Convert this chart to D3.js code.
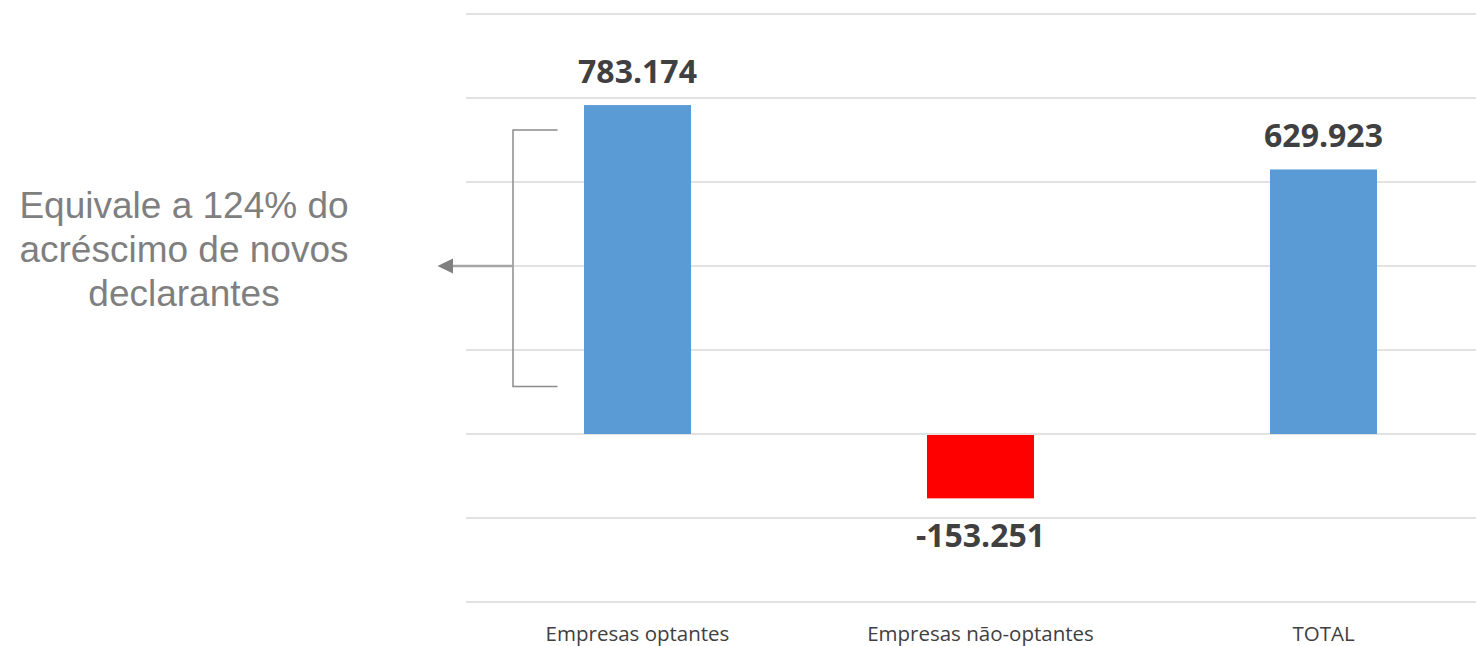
<!DOCTYPE html>
<html><head><meta charset="utf-8">
<script src="https://cdn.jsdelivr.net/npm/d3@7"></script>
<style>html,body{margin:0;padding:0;background:#fff;overflow:hidden}</style>
</head><body>
<svg id="c" width="1476" height="646"></svg>
<script>
const categories = ["Empresas optantes", "Empresas não-optantes", "TOTAL"];
const values = [783174, -153251, 629923];
const valueLabels = ["783.174", "-153.251", "629.923"];
const barColors = ["#5b9bd5", "#ff0000", "#5b9bd5"];
const gridTicks = [-400000, -200000, 0, 200000, 400000, 600000, 800000, 1000000];
const noteLines = ["Equivale a 124% do", "acréscimo de novos", "declarantes"];

const svg = d3.select("#c");
const x = d3.scaleBand().domain(categories).range([466, 1495]).padding(0);
const y = d3.scaleLinear().domain([-400000, 1000000]).range([602, 14]);
const barW = x.bandwidth() * 0.312;

svg.append("g").selectAll("line").data(gridTicks).join("line")
  .attr("x1", 466).attr("x2", 1495)
  .attr("y1", d => y(d)).attr("y2", d => y(d))
  .attr("stroke", "#d9d9d9").attr("stroke-width", 1.5);

svg.append("g").selectAll("rect").data(values).join("rect")
  .attr("x", (d, i) => x(categories[i]) + x.bandwidth() / 2 - barW / 2)
  .attr("width", barW)
  .attr("y", d => d >= 0 ? y(d) : y(0) + 1)
  .attr("height", d => d >= 0 ? y(0) - y(d) : y(d) - y(0) - 1)
  .attr("fill", (d, i) => barColors[i]);

svg.append("g").selectAll("text").data(values).join("text")
  .attr("x", (d, i) => x(categories[i]) + x.bandwidth() / 2)
  .attr("y", d => d >= 0 ? y(d) - 22 : y(d) + 49)
  .attr("text-anchor", "middle")
  .attr("font-family", "Open Sans, sans-serif").attr("font-weight", "bold")
  .attr("font-size", 32).attr("fill", "#404040")
  .text((d, i) => valueLabels[i]);

svg.append("g").selectAll("text").data(categories).join("text")
  .attr("x", d => x(d) + x.bandwidth() / 2)
  .attr("y", 641)
  .attr("text-anchor", "middle")
  .attr("font-family", "Open Sans, sans-serif")
  .attr("font-size", 20.5).attr("fill", "#404040")
  .text(d => d);

// bracket annotation
const br = svg.append("g").attr("fill", "none").attr("stroke", "#8c8c8c").attr("stroke-width", 1.5);
br.append("path").attr("d", `M557.5,${y(724000)}H513V${y(113000)}H557.5`);
svg.append("line").attr("x1", 513).attr("x2", 452).attr("y1", y(400000)).attr("y2", y(400000))
  .attr("stroke", "#a6a6a6").attr("stroke-width", 2.5);
svg.append("path").attr("d", `M437.5,${y(400000)}L453,${y(400000) - 7.5}L453,${y(400000) + 7.5}Z`)
  .attr("fill", "#808080");

svg.append("g").selectAll("text").data(noteLines).join("text")
  .attr("x", 184).attr("y", (d, i) => 218 + i * 44)
  .attr("text-anchor", "middle")
  .attr("font-family", "Liberation Sans, Arial, sans-serif")
  .attr("font-size", 37).attr("fill", "#7f7f7f")
  .text(d => d);
</script>
</body></html>
